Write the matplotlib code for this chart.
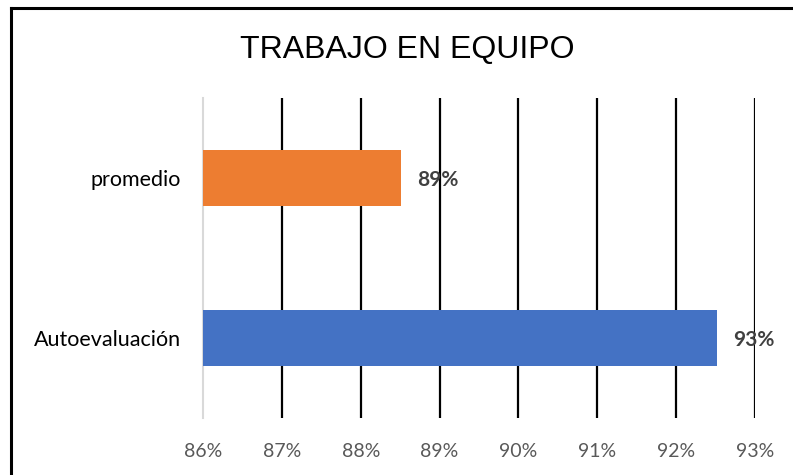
import matplotlib
matplotlib.use('Agg')
import matplotlib.pyplot as plt
from matplotlib.lines import Line2D
from matplotlib.ticker import FuncFormatter

# data
categorias = ['Autoevaluación', 'promedio']
valores = [0.9252, 0.8851]
colores = ['#4472C4', '#ED7D31']
titulo = 'TRABAJO EN EQUIPO'
ticks = [0.86, 0.87, 0.88, 0.89, 0.90, 0.91, 0.92, 0.93]

fig = plt.figure(figsize=(7.93, 4.75), dpi=100)
ax = fig.add_axes([203/793, 57/475, 552/793, 320/475])

y = list(range(len(categorias)))
ax.barh(y, [v - ticks[0] for v in valores], left=ticks[0], height=0.355, color=colores, zorder=3)

for yi, v in zip(y, valores):
    ax.text(v + 0.002, yi - 0.01, '{:.0%}'.format(v), va='center', ha='left',
            fontsize=15, fontweight='bold', color='#404040', family='Lato', zorder=4)

ax.set_xlim(ticks[0], ticks[-1])
ax.set_ylim(-0.5, 1.5)
ax.set_xticks(ticks)
ax.xaxis.set_major_formatter(FuncFormatter(lambda v, p: '{:.0f}%'.format(v * 100)))
ax.set_yticks(y)
ax.set_yticklabels(categorias)

# gridlines black, first one as light axis line
for t in ticks[1:]:
    ax.axvline(t, color='black', lw=1.6, zorder=1)
for s in ['top', 'right', 'bottom']:
    ax.spines[s].set_visible(False)
ax.spines['left'].set_color('#d9d9d9')
ax.spines['left'].set_linewidth(1.5)

ax.tick_params(axis='x', length=0, pad=18, labelsize=14, labelcolor='#595959')
ax.tick_params(axis='y', length=0, pad=16, labelsize=15.5, labelcolor='black')
for lab in ax.get_xticklabels() + ax.get_yticklabels():
    lab.set_family('Lato')

fig.text(407/793, 1 - 50/475, titulo, ha='center', va='center', fontsize=23,
         family='Liberation Sans', color='black')

# outer frame (only left and top edges visible)
fig.add_artist(Line2D([11/793, 11/793], [-0.1, 1 - 8/475], color='black', lw=2.2, transform=fig.transFigure))
fig.add_artist(Line2D([11/793, 1.1], [1 - 8/475, 1 - 8/475], color='black', lw=2.2, transform=fig.transFigure))

fig.savefig('out.png', dpi=100, facecolor='white')
